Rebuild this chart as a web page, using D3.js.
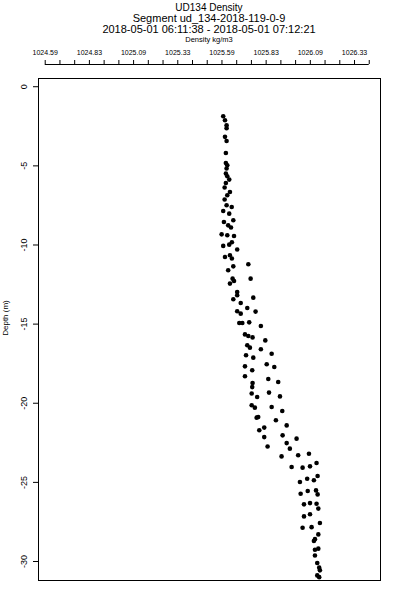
<!DOCTYPE html>
<html>
<head>
<meta charset="utf-8">
<script src="https://cdn.jsdelivr.net/npm/d3@7.9.0/dist/d3.min.js"></script>
<style>
  body { margin: 0; background: #fff; }
  svg text { font-family: "Liberation Sans", Arial, sans-serif; fill: #000; }
</style>
</head>
<body>
<div id="chart"></div>
<script>
const titleLines = [
  'UD134 Density',
  'Segment ud_134-2018-119-0-9',
  '2018-05-01 06:11:38 - 2018-05-01 07:12:21'
];
const xTitle = 'Density kg/m3';
const yTitle = 'Depth (m)';

const densityDomain = [1024.552, 1026.487];
const depthDomain = [0.52, -31.2];

const topLabels = ['1024.59', '1024.83', '1025.09', '1025.33', '1025.59', '1025.83', '1026.09', '1026.33'];
const depthTicks = [0, -5, -10, -15, -20, -25, -30];

// density (kg/m3) of each sample
const density = [
  1025.600, 1025.610, 1025.619, 1025.619, 1025.610, 1025.619, 1025.615, 1025.615, 1025.623, 1025.619,
  1025.615, 1025.623, 1025.634, 1025.615, 1025.608, 1025.638, 1025.623, 1025.608, 1025.619, 1025.648,
  1025.600, 1025.634, 1025.657, 1025.604, 1025.628, 1025.644, 1025.591, 1025.623, 1025.661, 1025.649,
  1025.634, 1025.600, 1025.679, 1025.638, 1025.610, 1025.649, 1025.742, 1025.657, 1025.628, 1025.755,
  1025.653, 1025.661, 1025.638, 1025.679, 1025.679, 1025.770, 1025.657, 1025.699, 1025.736, 1025.679,
  1025.699, 1025.783, 1025.691, 1025.708, 1025.747, 1025.813, 1025.723, 1025.742, 1025.766, 1025.838,
  1025.736, 1025.751, 1025.813, 1025.729, 1025.770, 1025.874, 1025.723, 1025.764, 1025.846, 1025.889,
  1025.723, 1025.766, 1025.764, 1025.855, 1025.911, 1025.761, 1025.792, 1025.859, 1025.921, 1025.761,
  1025.779, 1025.874, 1025.934, 1025.789, 1025.798, 1025.898, 1025.959, 1025.804, 1025.832, 1025.936,
  1026.015, 1025.832, 1025.851, 1025.959, 1025.977, 1025.930, 1026.024, 1026.085, 1025.987, 1026.049,
  1026.091, 1026.128, 1026.034, 1026.075, 1026.113, 1026.134, 1026.038, 1026.078, 1026.125, 1026.134,
  1026.057, 1026.091, 1026.128, 1026.138, 1026.057, 1026.091, 1026.049, 1026.100, 1026.147, 1026.138,
  1026.113, 1026.119, 1026.138, 1026.119, 1026.119, 1026.132, 1026.143, 1026.147, 1026.132, 1026.143
];

// depth (m) of each sample
const depth = [
  -1.90, -2.15, -2.47, -2.65, -3.20, -3.46, -4.22, -4.85, -4.99, -5.20,
  -5.52, -5.69, -5.90, -6.11, -6.40, -6.68, -6.89, -7.16, -7.52, -7.63,
  -7.88, -8.05, -8.47, -8.58, -8.79, -8.93, -9.36, -9.42, -9.46, -9.86,
  -10.01, -10.09, -10.32, -10.68, -10.79, -10.89, -11.25, -11.38, -11.63, -12.16,
  -12.16, -12.31, -12.47, -13.00, -13.21, -13.36, -13.46, -13.70, -14.01, -14.22,
  -14.37, -14.24, -14.96, -14.96, -14.92, -15.15, -15.68, -15.78, -15.87, -16.06,
  -16.37, -16.52, -16.62, -17.00, -17.15, -16.90, -17.70, -17.95, -17.57, -17.74,
  -18.33, -18.75, -19.01, -18.50, -18.69, -19.42, -19.64, -19.36, -19.60, -20.16,
  -20.31, -20.27, -20.52, -20.94, -20.90, -21.11, -21.43, -21.74, -21.57, -22.06,
  -22.27, -22.17, -22.76, -22.55, -22.90, -23.39, -23.32, -23.22, -24.06, -24.10,
  -24.02, -23.81, -25.01, -24.80, -24.90, -24.63, -25.75, -25.58, -25.54, -25.79,
  -26.42, -26.34, -26.38, -26.69, -27.18, -27.05, -27.90, -27.86, -27.60, -28.32,
  -28.74, -28.62, -29.22, -29.29, -29.65, -30.13, -30.42, -30.59, -30.91, -31.02
];

const width = 400;
const height = 600;
const box = { left: 38, right: 380, top: 78, bottom: 580 };
const cx = (box.left + box.right) / 2;

const svg = d3.select('#chart').append('svg')
  .attr('width', width)
  .attr('height', height);

const x = d3.scaleLinear().domain(densityDomain).range([box.left, box.right]);
const y = d3.scaleLinear().domain(depthDomain).range([box.top, box.bottom]);

// titles
const titleY = [10.5, 21.5, 32.5];
const titleSize = [10, 11, 11];
titleLines.forEach((t, i) => {
  svg.append('text')
    .attr('x', cx)
    .attr('y', titleY[i])
    .attr('text-anchor', 'middle')
    .attr('font-size', titleSize[i])
    .text(t);
});
svg.append('text')
  .attr('x', cx)
  .attr('y', 42)
  .attr('text-anchor', 'middle')
  .attr('font-size', 7.5)
  .text(xTitle);

// top axis: a minor tick every third of a label step
const topTicks = d3.range(topLabels.length * 3 - 1).map(i => 1024.59 + i * 0.25 / 3);
const gTop = svg.append('g')
  .attr('transform', 'translate(0,64)')
  .call(d3.axisTop(x)
    .tickValues(topTicks)
    .tickSize(4)
    .tickPadding(5)
    .tickFormat((d, i) => i % 3 === 0 ? topLabels[i / 3] : ''));
gTop.attr('font-family', null).attr('font-size', null);
gTop.select('.domain').remove();
gTop.append('line')
  .attr('x1', x(topTicks[0]))
  .attr('x2', x(topTicks[topTicks.length - 1]))
  .attr('y1', 0.5).attr('y2', 0.5)
  .attr('stroke', '#000');
gTop.selectAll('text').attr('font-size', 7);

// left axis
const gLeft = svg.append('g')
  .attr('transform', `translate(${box.left},0)`)
  .call(d3.axisLeft(y)
    .tickValues(depthTicks)
    .tickSize(5)
    .tickFormat(d => String(d)));
gLeft.attr('font-family', null).attr('font-size', null);
gLeft.select('.domain').remove();
gLeft.selectAll('text')
  .attr('x', null)
  .attr('dy', null)
  .attr('text-anchor', 'middle')
  .attr('transform', 'translate(-11.5,0) rotate(-90)')
  .attr('font-size', 9);

svg.append('text')
  .attr('transform', `translate(8,${(box.top + box.bottom) / 2 - 11}) rotate(-90)`)
  .attr('text-anchor', 'middle')
  .attr('font-size', 8)
  .text(yTitle);

// plot frame
svg.append('rect')
  .attr('x', box.left + 0.5)
  .attr('y', box.top + 0.5)
  .attr('width', box.right - box.left)
  .attr('height', box.bottom - box.top)
  .attr('fill', 'none')
  .attr('stroke', '#000');

// samples
svg.append('g')
  .selectAll('circle')
  .data(d3.zip(density, depth))
  .join('circle')
  .attr('cx', d => x(d[0]))
  .attr('cy', d => y(d[1]))
  .attr('r', 2.3)
  .attr('fill', '#000');
</script>
</body>
</html>
